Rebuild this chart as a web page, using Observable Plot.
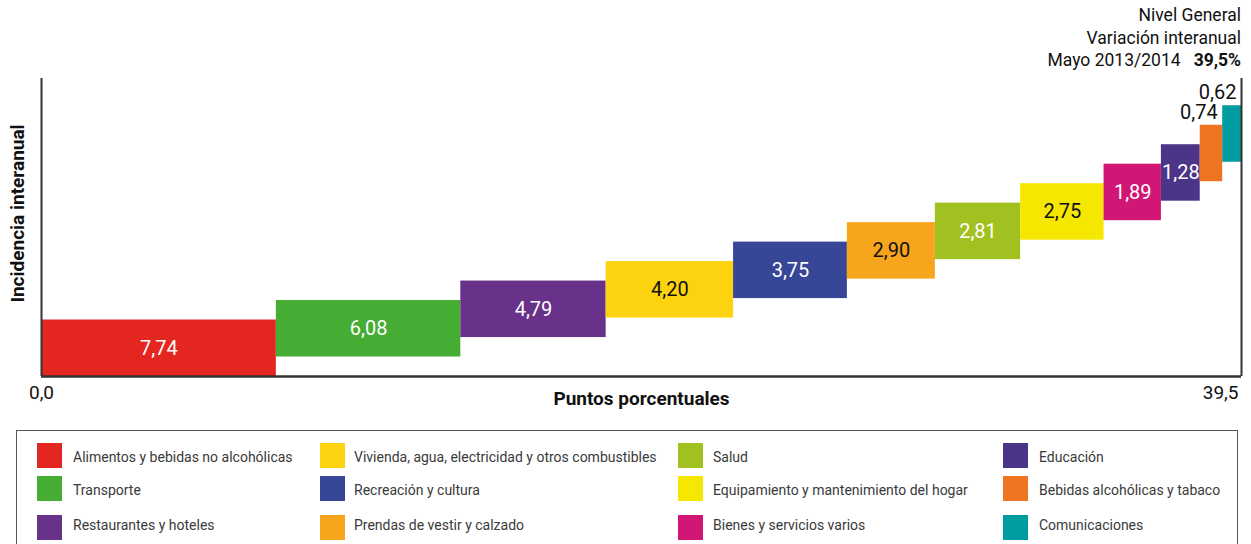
<!DOCTYPE html>
<html>
<head>
<meta charset="utf-8">
<script src="https://cdn.jsdelivr.net/npm/d3@7"></script>
<script src="https://cdn.jsdelivr.net/npm/@observablehq/plot@0.6"></script>
<style>
  body { margin: 0; background: #fff; font-family: Roboto, "Noto Sans", sans-serif; }
  #wrap { position: relative; width: 1251px; height: 544px; overflow: hidden; }
  #title { position: absolute; right: 10px; top: 4px; text-align: right; font-size: 17.5px; line-height: 22.5px; color: #111; }
  #legend { position: absolute; left: 16px; top: 430px; width: 1222px; height: 140px; border: 1.5px solid #555; box-sizing: border-box; }
  .item { position: absolute; font-size: 14px; color: #3a3a3a; white-space: nowrap; }
  .sw { position: absolute; width: 25px; height: 25px; }
</style>
</head>
<body>
<div id="wrap">
  <div id="chart"></div>
  <div id="title"></div>
  <div id="legend"></div>
</div>
<script>
const categories = [
  "Alimentos y bebidas no alcohólicas",
  "Transporte",
  "Restaurantes y hoteles",
  "Vivienda, agua, electricidad y otros combustibles",
  "Recreación y cultura",
  "Prendas de vestir y calzado",
  "Salud",
  "Equipamiento y mantenimiento del hogar",
  "Bienes y servicios varios",
  "Educación",
  "Bebidas alcohólicas y tabaco",
  "Comunicaciones"
];
const values = [7.74, 6.08, 4.79, 4.20, 3.75, 2.90, 2.81, 2.75, 1.89, 1.28, 0.74, 0.62];
const colors = ["#E3261F", "#45AC34", "#68318A", "#FDD20E", "#374696", "#F6A51D",
                "#A1C120", "#F5E700", "#D21675", "#4C3589", "#EE7421", "#009C9F"];
const labelColors = ["#fff", "#fff", "#fff", "#111", "#fff", "#111",
                     "#fff", "#111", "#fff", "#fff", "#111", "#111"];
const labelOutside = [false, false, false, false, false, false, false, false, false, false, true, true];
const totalLabel = "39,5";
const axisTickLabels = ["0,0", "39,5"];
const titleLines = ["Nivel General", "Variación interanual", "Mayo 2013/2014"];
const xLabel = "Puntos porcentuales";
const yLabel = "Incidencia interanual";

const fmt = v => v.toFixed(2).replace(".", ",");
const barHeight = 2.9;
let acc = 0;
const data = values.map((v, i) => {
  const d = {cat: categories[i], v, x1: acc, x2: acc + v, y1: i, y2: i + barHeight,
             color: colors[i], lc: labelColors[i], out: labelOutside[i], label: fmt(v)};
  acc += v;
  return d;
});
const total = acc;
const yMax = 15.3;

const chart = Plot.plot({
  width: 1251,
  height: 420,
  marginLeft: 41,
  marginRight: 10,
  marginTop: 78,
  marginBottom: 44,
  x: {domain: [0, total], axis: null},
  y: {domain: [0, yMax], axis: null},
  color: {type: "identity"},
  style: {fontFamily: "Roboto, 'Noto Sans', sans-serif", background: "#fff"},
  marks: [
    Plot.rect(data, {x1: "x1", x2: "x2", y1: "y1", y2: "y2", fill: "color"}),
    Plot.ruleX([0, total], {stroke: "#333", strokeWidth: 2}),
    Plot.ruleY([0], {stroke: "#333", strokeWidth: 2.5}),
    Plot.text(data.filter(d => !d.out), {
      x: d => (d.x1 + d.x2) / 2, y: d => (d.y1 + d.y2) / 2, text: "label",
      fill: "lc", fontSize: 20
    }),
    Plot.text(data.filter(d => d.out), {
      x: "x2", y: "y2", text: "label", fill: "#111", fontSize: 20,
      textAnchor: "end", dx: -5, dy: -13
    }),
    Plot.text([0], {x: d => d, text: [axisTickLabels[0]], frameAnchor: "bottom", dy: 22, fontSize: 19, fill: "#111"}),
    Plot.text([total], {x: d => d, text: [axisTickLabels[1]], frameAnchor: "bottom", dy: 22, dx: -3, textAnchor: "end", fontSize: 19, fill: "#111"}),
    Plot.text([xLabel], {frameAnchor: "bottom", dy: 28, fontSize: 19, fontWeight: "bold", fill: "#111"}),
    Plot.text([yLabel], {frameAnchor: "left", textAnchor: "middle", dx: -24, dy: -14, rotate: -90, fontSize: 19, fontWeight: "bold", fill: "#111"})
  ]
});
document.getElementById("chart").appendChild(chart);

const title = document.getElementById("title");
title.innerHTML = titleLines[0] + "<br>" + titleLines[1] + "<br>" + titleLines[2] +
  "&nbsp;&nbsp;&nbsp;<b>" + totalLabel + "%</b>";

const legend = document.getElementById("legend");
const colX = [20, 303, 661, 986];
const colTextX = [56, 337, 696, 1022];
const rowY = [12, 45, 84];
const rowTextY = [18, 51, 86];
categories.forEach((c, i) => {
  const col = Math.floor(i / 3), row = i % 3;
  const sw = document.createElement("div");
  sw.className = "sw";
  sw.style.left = colX[col] + "px";
  sw.style.top = rowY[row] + "px";
  sw.style.background = colors[i];
  legend.appendChild(sw);
  const t = document.createElement("div");
  t.className = "item";
  t.style.left = colTextX[col] + "px";
  t.style.top = rowTextY[row] + "px";
  t.textContent = c;
  legend.appendChild(t);
});
</script>
</body>
</html>
